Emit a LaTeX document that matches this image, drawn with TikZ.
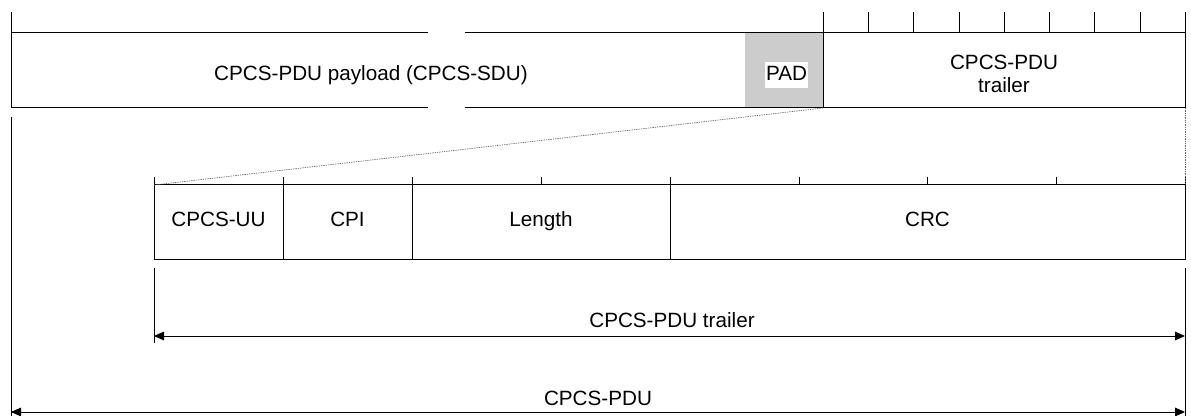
\documentclass[tikz,border=0pt]{standalone}
\usepackage{fontspec}
\setmainfont{Liberation Sans}
\usetikzlibrary{arrows.meta}
\definecolor{padColor}{RGB}{204,204,204}
\definecolor{dotColor}{RGB}{100,100,100}

\begin{document}
\begin{tikzpicture}[x=0.75pt,y=-0.75pt,line width=0.75pt,
    lbl/.style={anchor=base,inner sep=0pt,font=\fontsize{15.5}{18.6}\selectfont},
    dim/.style={{Triangle[length=7.5pt,width=6.5pt]}-{Triangle[length=7.5pt,width=6.5pt]}},
    zoomline/.style={draw=dotColor,line width=0.5pt,dash pattern=on 1pt off 0.75pt}]
    \useasboundingbox (0,0) rectangle (1191,416);

    % CPCS-PDU
    \draw[draw=none,fill=padColor] (745,33) rectangle (823,108);
    \draw (11,12) -- (11,108);
    \draw (11,33) -- (428,33);
    \draw (465,33) -- (1185,33);
    \draw (11,108) -- (428,108);
    \draw (465,108) -- (1185,108);
    \draw (823,12) -- (823,108);
    \draw (1185,12) -- (1185,108);

    \draw (868,12) -- (868,33);
    \draw (913,12) -- (913,33);
    \draw (959,12) -- (959,33);
    \draw (1004,12) -- (1004,33);
    \draw (1049,12) -- (1049,33);
    \draw (1094,12) -- (1094,33);
    \draw (1140,12) -- (1140,33);

    \node[lbl] (payload) at (371,81) {CPCS-PDU payload (CPCS-SDU)};
    \node[lbl,fill=white,inner xsep=1pt,inner ysep=0.5pt,text height=13.5pt,text depth=4.5pt] (pad) at (786.5,81) {PAD};
    \node[lbl] (trl1) at (1004,70) {CPCS-PDU};
    \node[lbl] (trl2) at (1004,93) {trailer};

    % trailer fields
    \draw (154,185) rectangle (1185,260);
    \draw (283,185) -- (283,260);
    \draw (412,185) -- (412,260);
    \draw (670,185) -- (670,260);

    \draw (154,177) -- (154,185);
    \draw (283,177) -- (283,185);
    \draw (412,177) -- (412,185);
    \draw (541,177) -- (541,185);
    \draw (670,177) -- (670,185);
    \draw (799,177) -- (799,185);
    \draw (927,177) -- (927,185);
    \draw (1056,177) -- (1056,185);
    \draw (1185,177) -- (1185,185);

    \node[lbl] (uu) at (218.5,227) {CPCS-UU};
    \node[lbl] (cpi) at (347.5,227) {CPI};
    \node[lbl] (len) at (541,227) {Length};
    \node[lbl] (crc) at (927.5,227) {CRC};

    \draw[zoomline] (823,108) -- (154,185);
    \draw[zoomline] (1185,108) -- (1185,185);

    % lengths
    \draw (11,117) -- (11,416);
    \draw (154,268) -- (154,343);
    \draw (1185,268) -- (1185,416);

    \coordinate (trlL) at (154,336);
    \coordinate (trlR) at (1185,336);
    \coordinate (pduL) at (11,412);
    \coordinate (pduR) at (1185,412);
    \draw[dim] (trlL) -- (trlR);
    \draw[dim] (pduL) -- (pduR);

    \node[lbl] (trllbl) at (672,328) {CPCS-PDU trailer};
    \node[lbl] (pdulbl) at (598,405) {CPCS-PDU};
\end{tikzpicture}
\end{document}
